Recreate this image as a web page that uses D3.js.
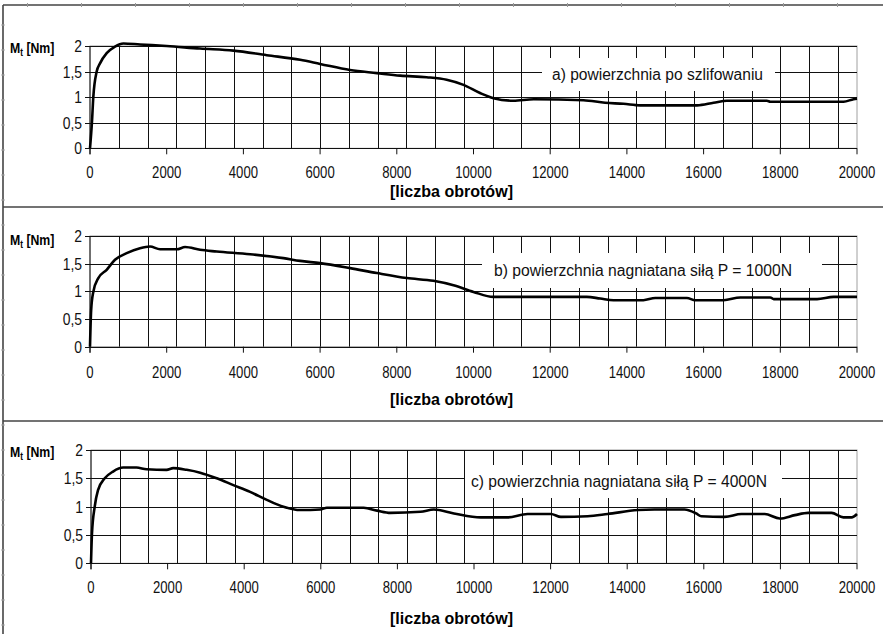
<!DOCTYPE html>
<html>
<head>
<meta charset="utf-8">
<script src="https://cdn.jsdelivr.net/npm/d3@7"></script>
<style>
  html, body { margin: 0; padding: 0; background: #fff; }
  svg { display: block; }
</style>
</head>
<body>
<div id="chart"></div>
<script>
// x ticks and y ticks shared by the three panels
const xTicks = [0, 2000, 4000, 6000, 8000, 10000, 12000, 14000, 16000, 18000, 20000];
const yTicks = [0, 0.5, 1, 1.5, 2];
const yTickLabels = ["0", "0,5", "1", "1,5", "2"];
const gridStep = 750; // vertical grid lines every 750 obrotów

// a) powierzchnia po szlifowaniu
const revsA = [0, 50, 86, 174, 261, 435, 652, 870, 1304, 2000, 2870, 3740, 4610, 5480, 6000, 6780, 7480, 8090, 8780, 9300, 9740, 10170, 10520, 11040, 11570, 12870, 13430, 13910, 14350, 15830, 16260, 16610, 17650, 17740, 19650, 19910, 20000];
const torqueA = [0, 0.5, 1.0, 1.5, 1.66, 1.86, 1.99, 2.05, 2.03, 2.0, 1.95, 1.91, 1.82, 1.73, 1.65, 1.53, 1.47, 1.42, 1.39, 1.34, 1.24, 1.08, 0.98, 0.93, 0.96, 0.94, 0.89, 0.87, 0.84, 0.84, 0.89, 0.93, 0.93, 0.91, 0.91, 0.96, 0.97];

// b) nagniatana P = 1000N
const revsB = [0, 30, 86, 217, 435, 652, 957, 1304, 1565, 1826, 2261, 2480, 2870, 3304, 4174, 5043, 5478, 6000, 6783, 7478, 8260, 8955, 9478, 10000, 10520, 12955, 13304, 13650, 14430, 14740, 15565, 15780, 16520, 16957, 17740, 17830, 18960, 19390, 20000];
const torqueB = [0, 0.66, 0.99, 1.24, 1.39, 1.57, 1.69, 1.78, 1.81, 1.76, 1.76, 1.80, 1.75, 1.72, 1.67, 1.60, 1.55, 1.51, 1.42, 1.33, 1.24, 1.19, 1.11, 0.99, 0.90, 0.90, 0.87, 0.84, 0.84, 0.88, 0.88, 0.84, 0.84, 0.89, 0.89, 0.86, 0.86, 0.90, 0.90];

// c) nagniatana P = 4000N
const revsC = [0, 26, 97, 183, 359, 576, 838, 1188, 1450, 1974, 2147, 2497, 2850, 3285, 3717, 4154, 4590, 5026, 5463, 5987, 6160, 7120, 7469, 7818, 8604, 8953, 9476, 10175, 10873, 11397, 12008, 12270, 12968, 13490, 14276, 14712, 15497, 15803, 15934, 16545, 16982, 17592, 17985, 18377, 18726, 19337, 19643, 19860, 20000];
const torqueC = [0, 0.53, 1.0, 1.29, 1.50, 1.62, 1.69, 1.69, 1.66, 1.65, 1.68, 1.65, 1.60, 1.50, 1.38, 1.26, 1.12, 1.0, 0.94, 0.95, 0.98, 0.98, 0.93, 0.89, 0.91, 0.95, 0.88, 0.81, 0.81, 0.87, 0.87, 0.82, 0.83, 0.87, 0.94, 0.95, 0.95, 0.88, 0.83, 0.82, 0.87, 0.87, 0.79, 0.85, 0.89, 0.89, 0.81, 0.81, 0.87];

const labels = [
  "a) powierzchnia po szlifowaniu",
  "b) powierzchnia nagniatana siłą P = 1000N",
  "c) powierzchnia nagniatana siłą P = 4000N"
];

const width = 883, height = 634;
const font = "'Liberation Sans', Arial, sans-serif";
const squeeze = 0.82; // imitate the narrow font of the original

// panel layout (pixels)
const panels = [
  { xs: revsA, ys: torqueA, label: labels[0], x0: 90, x1: 857, top: 46, bottom: 148.3, tickY: 172, titleY: 191, mtY: 48,
    box: [542, 58, 775, 91], textX: 552, textW: 211 },
  { xs: revsB, ys: torqueB, label: labels[1], x0: 90, x1: 857, top: 236, bottom: 346.7, tickY: 372, titleY: 399, mtY: 240,
    box: [482, 253, 822, 288], textX: 494, textW: 298 },
  { xs: revsC, ys: torqueC, label: labels[2], x0: 91, x1: 857, top: 450, bottom: 563.3, tickY: 587, titleY: 618, mtY: 452,
    box: [465, 465, 782, 498], textX: 471, textW: 296 }
];

const svg = d3.select("#chart").append("svg")
  .attr("width", width).attr("height", height);

// outer frame + separators
const frame = svg.append("g").attr("stroke", "#444").attr("stroke-width", 1.6);
frame.append("line").attr("x1", 3).attr("x2", width).attr("y1", 5).attr("y2", 5);
frame.append("line").attr("x1", 3).attr("x2", 3).attr("y1", 5).attr("y2", height);
[207, 421].forEach(y => frame.append("line").attr("x1", 3).attr("x2", width).attr("y1", y).attr("y2", y));

// faint ruler ticks on the frame
svg.append("g").selectAll("line").data(d3.range(27.5, width, 54)).join("line")
  .attr("x1", d => d).attr("x2", d => d).attr("y1", 3).attr("y2", 7)
  .attr("stroke", "#999").attr("stroke-width", 1);
svg.append("g").selectAll("line").data(d3.range(25, height, 25)).join("line")
  .attr("x1", 1).attr("x2", 5).attr("y1", d => d).attr("y2", d => d)
  .attr("stroke", "#aaa").attr("stroke-width", 1);

panels.forEach(p => {
  const x = d3.scaleLinear().domain([0, 20000]).range([p.x0, p.x1]);
  const y = d3.scaleLinear().domain([0, 2]).range([p.bottom, p.top]);
  const g = svg.append("g");

  // plot border (gray)
  g.append("rect")
    .attr("x", x(0)).attr("y", y(2))
    .attr("width", x(20000) - x(0)).attr("height", y(0) - y(2))
    .attr("fill", "#fff").attr("stroke", "#a0a0a0").attr("stroke-width", 1);

  // vertical grid
  g.append("g").selectAll("line").data(d3.range(gridStep, 20000, gridStep)).join("line")
    .attr("x1", d => Math.round(x(d)) + 0.5).attr("x2", d => Math.round(x(d)) + 0.5)
    .attr("y1", y(2)).attr("y2", y(0))
    .attr("stroke", "#111").attr("stroke-width", 1);

  // horizontal grid + left ticks
  g.append("g").selectAll("line").data(yTicks).join("line")
    .attr("x1", x(0) - 5).attr("x2", x(20000))
    .attr("y1", d => Math.round(y(d)) + 0.5).attr("y2", d => Math.round(y(d)) + 0.5)
    .attr("stroke", "#111").attr("stroke-width", 1);

  // y axis line
  g.append("line")
    .attr("x1", x(0)).attr("x2", x(0)).attr("y1", y(2)).attr("y2", y(0) + 6)
    .attr("stroke", "#111").attr("stroke-width", 1);

  // x axis ticks
  g.append("g").selectAll("line").data(xTicks).join("line")
    .attr("x1", d => x(d)).attr("x2", d => x(d))
    .attr("y1", y(0)).attr("y2", y(0) + 6)
    .attr("stroke", "#111").attr("stroke-width", 1);

  // legend box (white, hides grid)
  const [bx0, by0, bx1, by1] = p.box;
  g.append("rect").attr("x", bx0).attr("y", by0)
    .attr("width", bx1 - bx0).attr("height", by1 - by0).attr("fill", "#fff");
  g.append("text")
    .attr("x", p.textX).attr("y", (by0 + by1) / 2)
    .attr("dy", "0.35em")
    .attr("textLength", p.textW).attr("lengthAdjust", "spacingAndGlyphs")
    .style("font-family", font).style("font-size", "16px").attr("fill", "#111")
    .text(p.label);

  // curve
  const line = d3.line().x((d, i) => x(p.xs[i])).y(d => y(d)).curve(d3.curveMonotoneX);
  g.append("path").datum(p.ys)
    .attr("d", line).attr("fill", "none")
    .attr("stroke", "#000").attr("stroke-width", 2.6).attr("stroke-linejoin", "round");

  // y tick labels
  g.append("g").selectAll("text").data(yTicks).join("text")
    .attr("transform", d => `translate(${x(0) - 8},${y(d)}) scale(${squeeze},1)`)
    .attr("dy", "0.35em")
    .attr("text-anchor", "end")
    .style("font-family", font).style("font-size", "17px").attr("fill", "#111")
    .text((d, i) => yTickLabels[i]);

  // x tick labels
  g.append("g").selectAll("text").data(xTicks).join("text")
    .attr("transform", d => `translate(${x(d)},${p.tickY}) scale(${squeeze},1)`)
    .attr("dy", "0.35em")
    .attr("text-anchor", "middle")
    .style("font-family", font).style("font-size", "16px").attr("fill", "#111")
    .text(d => d);

  // axis title
  g.append("text")
    .attr("x", 390).attr("y", p.titleY).attr("dy", "0.35em")
    .attr("textLength", 123).attr("lengthAdjust", "spacingAndGlyphs")
    .style("font-family", font).style("font-size", "17px").style("font-weight", "bold")
    .attr("fill", "#000")
    .text("[liczba obrotów]");

  // M_t [Nm]
  const mt = g.append("text")
    .attr("transform", `translate(10,${p.mtY}) scale(${squeeze},1)`)
    .attr("dy", "0.35em")
    .style("font-family", font).style("font-size", "15px").style("font-weight", "bold")
    .attr("fill", "#000");
  mt.append("tspan").text("M");
  mt.append("tspan").attr("dy", 3).style("font-size", "10px").text("t");
  mt.append("tspan").attr("dy", -3).text(" [Nm]");
});
</script>
</body>
</html>
